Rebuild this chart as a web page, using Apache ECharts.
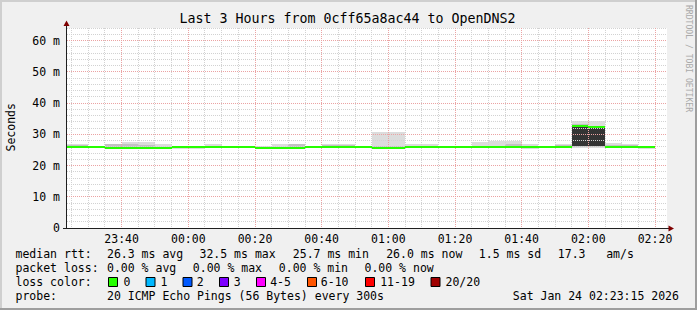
<!DOCTYPE html>
<html><head><meta charset="utf-8">
<script src="https://cdn.jsdelivr.net/npm/echarts@6/dist/echarts.min.js"></script>
<style>html,body{margin:0;padding:0;background:#f0f0f0}#c{width:697px;height:310px}</style>
</head><body><div id="c"></div>
<script>
// ---------- DATA ----------
const titleText = 'Last 3 Hours from 0cff65a8ac44 to OpenDNS2';
const yAxisName = 'Seconds';
const watermarkText = 'RRDTOOL / TOBI OETIKER';
// time in minutes relative to 00:00 (Jan 24 2026)
const xStart = -36.4;
const xEnd = 143.6;
const binMinutes = 5;
const xTickValues = [-20, 0, 20, 40, 60, 80, 100, 120, 140];
const xTickLabels = ['23:40', '00:00', '00:20', '00:40', '01:00', '01:20', '01:40', '02:00', '02:20'];
const yMin = 0, yMax = 64;
const yTickValues = [0, 10, 20, 30, 40, 50, 60];
const yTickLabels = ['0', '10 m', '20 m', '30 m', '40 m', '50 m', '60 m'];

// 5-minute bins (start minute), median rtt and smoke (ms)
const binStart = [-40,-35,-30,-25,-20,-15,-10,-5,0,5,10,15,20,25,30,35,40,45,50,55,60,65,70,75,80,85,90,95,100,105,110,115,120,125,130,135];
const median   = [26.0,26.0,26.0,25.7,25.7,25.7,25.7,26.0,26.0,26.0,26.0,26.0,25.7,25.7,25.7,26.0,26.0,26.0,26.0,25.7,25.7,26.0,26.0,26.0,26.0,26.0,26.0,26.0,26.0,26.0,26.0,32.5,32.3,26.0,26.0,26.0];
const smokeMax = [26.9,26.9,26.2,26.9,27.6,27.4,26.8,26.1,26.1,26.8,26.3,26.3,26.2,26.8,27.0,26.2,27.0,27.0,26.2,30.6,30.6,26.9,26.9,26.2,26.2,27.4,27.8,27.7,26.9,26.2,26.9,34.3,34.1,27.3,27.0,26.2];
const smokeMin = [25.9,25.9,25.9,25.5,25.5,25.5,25.5,25.3,25.3,25.9,25.9,25.9,25.5,25.5,25.5,25.9,25.9,25.9,25.9,25.4,25.4,25.9,25.9,25.9,25.9,25.9,25.9,25.9,25.3,25.9,25.9,25.6,25.6,25.9,25.9,25.3];
const innerMax = [26.6,26.6,null,26.9,26.9,26.6,null,null,null,null,null,null,null,null,26.8,null,26.6,26.6,null,26.2,26.2,null,null,null,null,null,null,27.0,null,null,26.5,33.4,32.8,26.6,26.6,null];
const innerMin = [25.9,25.9,null,25.5,25.5,25.5,null,null,null,null,null,null,null,null,25.5,null,25.9,25.9,null,25.6,25.6,null,null,null,null,null,null,25.9,null,null,25.9,25.8,25.8,25.9,25.9,null];
const coreMax  = [null,null,null,null,null,null,null,null,null,null,null,null,null,null,null,null,null,null,null,null,null,null,null,null,null,null,null,null,null,null,null,32.5,32.3,null,null,null];
const coreMin  = [null,null,null,null,null,null,null,null,null,null,null,null,null,null,null,null,null,null,null,null,null,null,null,null,null,null,null,null,null,null,null,26.1,26.1,null,null,null];

// legend / statistics text
const rttLabel = 'median rtt:';
const rttStats = ['26.3 ms avg', '32.5 ms max', '25.7 ms min', '26.0 ms now', '1.5 ms sd', '17.3', 'am/s'];
const lossLabel = 'packet loss:';
const lossStats = ['0.00 % avg', '0.00 % max', '0.00 % min', '0.00 % now'];
const lossColorLabel = 'loss color:';
const lossBuckets = ['0', '1', '2', '3', '4-5', '6-10', '11-19', '20/20'];
const lossColors = ['#26ff00', '#00b8ff', '#0059ff', '#7e00ff', '#ff00ff', '#ff5500', '#ff0000', '#a00000'];
const probeLabel = 'probe:';
const probeText = '20 ICMP Echo Pings (56 Bytes) every 300s';
const dateText = 'Sat Jan 24 02:23:15 2026';

// ---------- LAYOUT / STYLE ----------
const FONT = '"DejaVu Sans Mono", monospace';
const FS = 11.5;
const G = {left: 67, top: 28, width: 600, height: 200};
const rttX = [107, 199.5, 292.8, 386.2, 478.8, 557.8, 606.2];
const lossX = [107, 192.8, 278.8, 364.5];
const boxX = [108, 145.5, 182.5, 219, 256, 307, 365, 430.5];
const bucketX = [123.5, 160.5, 196.8, 233.8, 270.2, 320.8, 380.2, 445.5];
const rowY = [253.8, 267.9, 281.8, 295.9];
const C_LIGHT = '#dcdcdc', C_MID = '#c2c2c2', C_CORE = '#343434';

const el = document.getElementById('c');
const chart = echarts.init(el, null, {renderer: 'svg', width: 697, height: 310});

function rectSeries(lo, hi, color, z) {
  const data = [];
  binStart.forEach((t, i) => { if (lo[i] != null && hi[i] != null) data.push([t, lo[i], hi[i]]); });
  return {
    type: 'custom', silent: true, z: z, data: data,
    renderItem(params, api) {
      const t0 = Math.max(api.value(0), xStart), t1 = Math.min(api.value(0) + binMinutes, xEnd);
      const a = api.coord([t0, api.value(2)]), b = api.coord([t1, api.value(1)]);
      const x0 = Math.round(a[0]), x1 = Math.round(b[0]);
      const y0 = Math.round(a[1]), y1 = Math.round(b[1]);
      return {type: 'rect', shape: {x: x0, y: y0, width: x1 - x0, height: Math.max(1, y1 - y0)}, style: {fill: color}};
    }
  };
}

// gridline values (axis helper lines)
const vMajor = xTickValues.slice();
const vMinor = [];
for (let t = -35; t <= 140; t += 5) if (vMajor.indexOf(t) < 0) vMinor.push(t);
const hMajor = yTickValues.filter(v => v > 0);
const hMinor = [];
for (let v = 2; v <= 64; v += 2) if (v % 10 !== 0) hMinor.push(v);

const gridData = [];
vMinor.forEach(v => gridData.push([0, v, 0]));
hMinor.forEach(v => gridData.push([1, v, 0]));
vMajor.forEach(v => gridData.push([0, v, 1]));
hMajor.forEach(v => gridData.push([1, v, 1]));

const gridSeries = {
  type: 'custom', silent: true, z: 5, data: gridData,
  renderItem(params, api) {
    const horiz = api.value(0), v = api.value(1), major = api.value(2);
    const style = {stroke: major ? '#eba3a3' : '#d2d2d2', lineWidth: 1, lineDash: [1, 1]};
    if (!horiz) {
      const a = api.coord([v, yMax]), b = api.coord([v, yMin]);
      const x = Math.floor(a[0]) + 0.5;
      return {type: 'line', shape: {x1: x, y1: a[1], x2: x, y2: b[1]}, style};
    } else {
      const a = api.coord([xStart, v]), b = api.coord([xEnd, v]);
      const y = Math.floor(a[1]) + 0.5;
      return {type: 'line', shape: {x1: a[0], y1: y, x2: b[0], y2: y}, style};
    }
  }
};

const medianData = binStart.map((t, i) => [t, median[i]]);
const medianSeries = {
  type: 'custom', silent: true, z: 10, data: medianData,
  renderItem(params, api) {
    const t0 = Math.max(api.value(0), xStart), t1 = Math.min(api.value(0) + binMinutes, xEnd);
    const a = api.coord([t0, api.value(1)]), b = api.coord([t1, api.value(1)]);
    const x0 = Math.round(a[0]), x1 = Math.round(b[0]);
    const y0 = Math.round(a[1] - 1);
    return {type: 'rect', shape: {x: x0, y: y0, width: x1 - x0, height: 2}, style: {fill: lossColors[0]}};
  }
};

function txt(text, x, y, extra) {
  return Object.assign({type: 'text', x: x, y: y, silent: true,
    style: {text: text, fontFamily: FONT, fontSize: FS, fill: '#000', align: 'left', verticalAlign: 'middle'}}, extra || {});
}

const graphics = [];
// frame shading
graphics.push({type: 'rect', shape: {x: 0, y: 0, width: 697, height: 2}, style: {fill: '#cfcfcf'}, silent: true});
graphics.push({type: 'rect', shape: {x: 0, y: 0, width: 2, height: 310}, style: {fill: '#cfcfcf'}, silent: true});
graphics.push({type: 'rect', shape: {x: 0, y: 308, width: 697, height: 2}, style: {fill: '#9e9e9e'}, silent: true});
graphics.push({type: 'rect', shape: {x: 695, y: 0, width: 2, height: 310}, style: {fill: '#9e9e9e'}, silent: true});
// axes
graphics.push({type: 'line', z: 20, shape: {x1: 66.5, y1: 229, x2: 66.5, y2: 24}, style: {stroke: '#1f1f1f', lineWidth: 1}, silent: true});
graphics.push({type: 'line', z: 20, shape: {x1: 63, y1: 228.5, x2: 670, y2: 228.5}, style: {stroke: '#1f1f1f', lineWidth: 1}, silent: true});
graphics.push({type: 'polygon', z: 21, shape: {points: [[66.5, 20.5], [63.5, 26], [69.5, 26]]}, style: {fill: '#7f0000'}, silent: true});
graphics.push({type: 'polygon', z: 21, shape: {points: [[674, 228.5], [668.5, 225.5], [668.5, 231.5]]}, style: {fill: '#7f0000'}, silent: true});
// title and axis name
graphics.push(txt(titleText, 347.5, 18.8, {style: {text: titleText, fontFamily: FONT, fontSize: 13.3, fill: '#000', align: 'center', verticalAlign: 'middle'}}));
graphics.push({type: 'text', x: 11, y: 127.3, rotation: Math.PI / 2, silent: true,
  style: {text: yAxisName, fontFamily: FONT, fontSize: FS, fill: '#000', align: 'center', verticalAlign: 'middle'}});
graphics.push({type: 'text', x: 688.5, y: 58.5, rotation: -Math.PI / 2, silent: true,
  style: {text: watermarkText, fontFamily: FONT, fontSize: 8.1, fill: '#a9a9a9', align: 'center', verticalAlign: 'middle'}});
// legend rows
graphics.push(txt(rttLabel, 15.5, rowY[0]));
rttStats.forEach((s, i) => graphics.push(txt(s, rttX[i], rowY[0])));
graphics.push(txt(lossLabel, 15.5, rowY[1]));
lossStats.forEach((s, i) => graphics.push(txt(s, lossX[i], rowY[1])));
graphics.push(txt(lossColorLabel, 15.5, rowY[2]));
lossBuckets.forEach((s, i) => {
  graphics.push({type: 'rect', silent: true, shape: {x: boxX[i] + 0.5, y: 277.5, width: 9, height: 9}, style: {fill: lossColors[i], stroke: '#000', lineWidth: 1}});
  graphics.push(txt(s, bucketX[i], rowY[2]));
});
graphics.push(txt(probeLabel, 15.5, rowY[3]));
graphics.push(txt(probeText, 107, rowY[3]));
graphics.push(txt(dateText, 512.8, rowY[3]));

const option = {
  animation: false,
  backgroundColor: '#f0f0f0',
  grid: {left: G.left, top: G.top, width: G.width, height: G.height, show: true, backgroundColor: '#ffffff', borderWidth: 0},
  xAxis: {
    type: 'value', min: xStart, max: xEnd,
    axisLine: {show: false}, axisTick: {show: false}, splitLine: {show: false},
    axisLabel: {
      customValues: xTickValues, margin: 5, fontFamily: FONT, fontSize: FS, color: '#000',
      formatter: v => { const i = xTickValues.findIndex(t => Math.abs(t - v) < 1e-6); return i >= 0 ? xTickLabels[i] : ''; }
    }
  },
  yAxis: {
    type: 'value', min: yMin, max: yMax, interval: 10,
    axisLine: {show: false}, axisTick: {show: false}, splitLine: {show: false},
    axisLabel: {
      margin: 7, fontFamily: FONT, fontSize: FS, color: '#000', showMaxLabel: false,
      formatter: v => { const i = yTickValues.indexOf(v); return i >= 0 ? yTickLabels[i] : ''; }
    }
  },
  series: [
    rectSeries(smokeMin, smokeMax, C_LIGHT, 1),
    rectSeries(innerMin, innerMax, C_MID, 2),
    rectSeries(coreMin, coreMax, C_CORE, 3),
    gridSeries,
    medianSeries
  ],
  graphic: graphics
};
chart.setOption(option);
</script>
</body></html>
